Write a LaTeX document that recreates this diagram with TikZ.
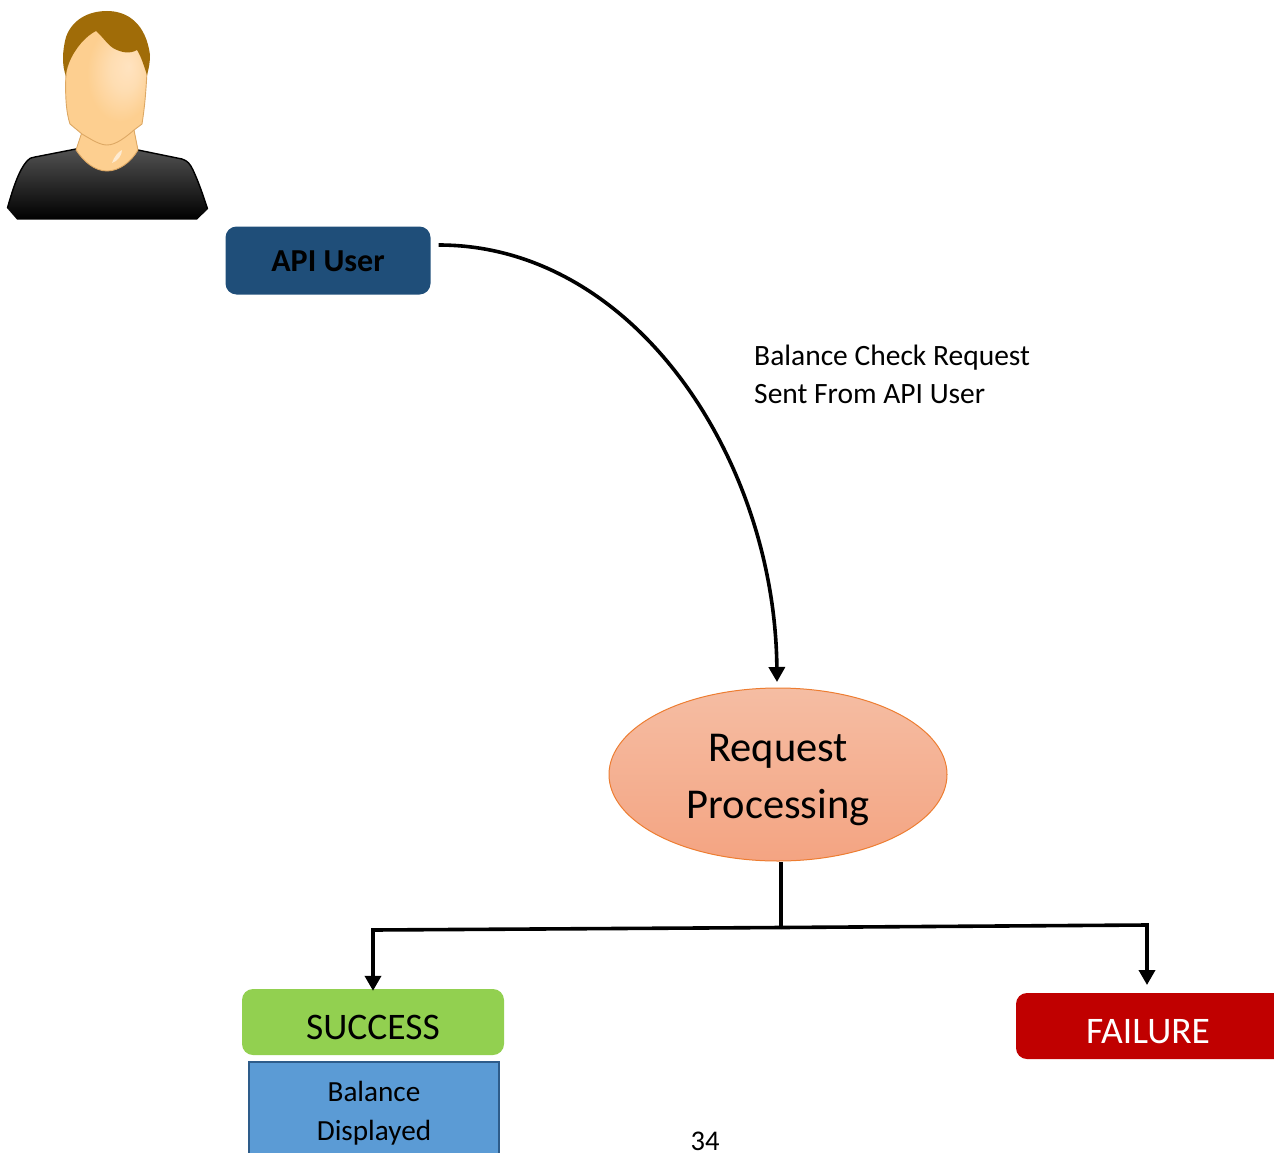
\documentclass[tikz,border=0pt]{standalone}
\usepackage{fontspec}
\setmainfont{Carlito}
\usetikzlibrary{shapes.geometric,arrows.meta}
\definecolor{navy}{HTML}{1F4E79}
\definecolor{okgreen}{HTML}{92D050}
\definecolor{badred}{HTML}{C00000}
\definecolor{panelblue}{HTML}{5B9BD5}
\definecolor{panelline}{HTML}{2E5C8A}
\definecolor{ovaltop}{HTML}{F5BDA3}
\definecolor{ovalbot}{HTML}{F4A482}
\definecolor{ovalline}{HTML}{ED7D31}
\definecolor{hair}{HTML}{A06C08}
\definecolor{skin}{HTML}{FDCF90}
\definecolor{skinlight}{HTML}{FFE3C0}
\definecolor{skinline}{HTML}{DDA864}
\pgfdeclareradialshading{facesh}{\pgfpoint{14bp}{8bp}}{color(0bp)=(skinlight); color(9bp)=(skinlight!70!skin); color(20bp)=(skin); color(50bp)=(skin)}
\tikzset{
  flow/.style={line width=3.6pt,black},
  flowtip/.style={flow,-{Triangle[length=15pt,width=16pt]}},
  roundbox/.style={rounded corners=11pt,inner sep=0pt},
}
\begin{document}
\begin{tikzpicture}[x=1pt,y=-1pt]
\useasboundingbox (0,0) rectangle (1274,1153);
\clip (0,0) rectangle (1274,1153);
% person
\path[top color=black!68,bottom color=black,draw=none]
  (7,208) .. controls (13,188) and (19,170) .. (27,161) .. controls (29,158) and (31,158) .. (35,157)
  -- (76,149) -- (138,150) -- (182,159) .. controls (188,161) and (190,164) .. (193,170)
  .. controls (199,183) and (203,195) .. (208,209) -- (197,219.5) -- (17,219.5) -- cycle;
\draw[black,line width=1.4pt] (7.5,208) .. controls (13,188) and (19,170) .. (27,161) .. controls (29,158) and (31,158) .. (35,157) -- (76,149);
\draw[black,line width=1.4pt] (138,150) -- (182,159) .. controls (188,161) and (190,164) .. (193,170) .. controls (199,183) and (203,195) .. (207.5,209);
\path[fill=skin,draw=skinline,line width=0.9pt]
  (82,132) -- (76,150) .. controls (84,162) and (95,171) .. (107,171)
  .. controls (119,171) and (131,162) .. (138,150) -- (134,130) -- cycle;
\path[fill=white,opacity=.6] (112,163) .. controls (114,157) and (118,152) .. (122,150) .. controls (122,155) and (118,161) .. (112,163) -- cycle;
\path[draw=skinline,line width=0.9pt,shading=facesh]
  (66,72) .. controls (65,95) and (66,112) .. (70,124)
  -- (82,134) .. controls (92,140) and (100,145) .. (107,145)
  .. controls (116,145) and (126,137) .. (134,130)
  -- (142,124) .. controls (145,105) and (146,90) .. (147,72)
  -- (137,40) -- (97,25) -- (75,40) -- cycle;
\path[fill=hair] (66,76) .. controls (62,66) and (62,52) .. (66,37)
  .. controls (72,20) and (88,11) .. (107,11)
  .. controls (128,11) and (146,24) .. (150,55)
  .. controls (150,62) and (149,68) .. (147,75)
  .. controls (144,66) and (141,56) .. (137,50)
  .. controls (130,54) and (122,53) .. (113,48)
  .. controls (107,44) and (102,36) .. (96,31)
  .. controls (86,36) and (75,48) .. (69,63)
  .. controls (67,68) and (66,72) .. (66,76) -- cycle;
% nodes
\node[roundbox,fill=navy,minimum width=205pt,minimum height=68pt] (user) at (328,260.5) {};
\node[inner sep=0pt,font=\fontsize{32}{34}\selectfont\bfseries,text=black] (usertext) at (328,261.5) {API User};
\node[ellipse,inner sep=0pt,minimum width=338pt,minimum height=173pt,draw=ovalline,line width=1pt,top color=ovaltop,bottom color=ovalbot] (proc) at (778,774.5) {};
\node[align=center,inner sep=0pt,font=\fontsize{42.5}{57}\selectfont] (proctext) at (778,780) {Request\\Processing};
\node[roundbox,fill=okgreen,minimum width=262pt,minimum height=66pt] (success) at (373,1022) {};
\node[inner sep=0pt,font=\fontsize{37.5}{40}\selectfont] (successtext) at (373,1027.5) {SUCCESS};
\node[draw=panelline,line width=2.6pt,fill=panelblue,minimum width=250pt,minimum height=110pt,inner sep=0pt] (panel) at (374,1117) {};
\node[align=center,inner sep=0pt,font=\fontsize{29.2}{39}\selectfont] (paneltext) at (374,1113) {Balance\\Displayed};
\node[roundbox,fill=badred,minimum width=290pt,minimum height=66pt] (failure) at (1161,1026) {};
\node[inner sep=0pt,text=white,font=\fontsize{37.5}{40}\selectfont] (failtext) at (1148,1032) {FAILURE};
\node[align=left,anchor=west,inner sep=0pt,font=\fontsize{29.5}{38}\selectfont] (reqlabel) at (754,374) {Balance Check Request\\Sent From API User};
\node[inner sep=0pt,anchor=base,font=\fontsize{28.5}{30}\selectfont] (pagenum) at (705,1150) {34};
% connectors
\coordinate (curvestart) at ([xshift=8pt,yshift=15.5pt]user.east);
\coordinate (curveend) at (777,682);
\coordinate (hub) at (781,927.5);
\coordinate (leftbend) at (373,930);
\coordinate (rightbend) at (1147,925);
\coordinate (failend) at (1147,985);
\draw[flowtip] (curvestart) .. controls (635,245) and (775,460) .. (curveend);
\draw[flow] (781,862) -- (hub);
\draw[flowtip] (hub) -- (leftbend) -- ([yshift=-2pt]success.north -| leftbend);
\draw[flowtip] (hub) -- (rightbend) -- (failend);
\end{tikzpicture}
\end{document}
